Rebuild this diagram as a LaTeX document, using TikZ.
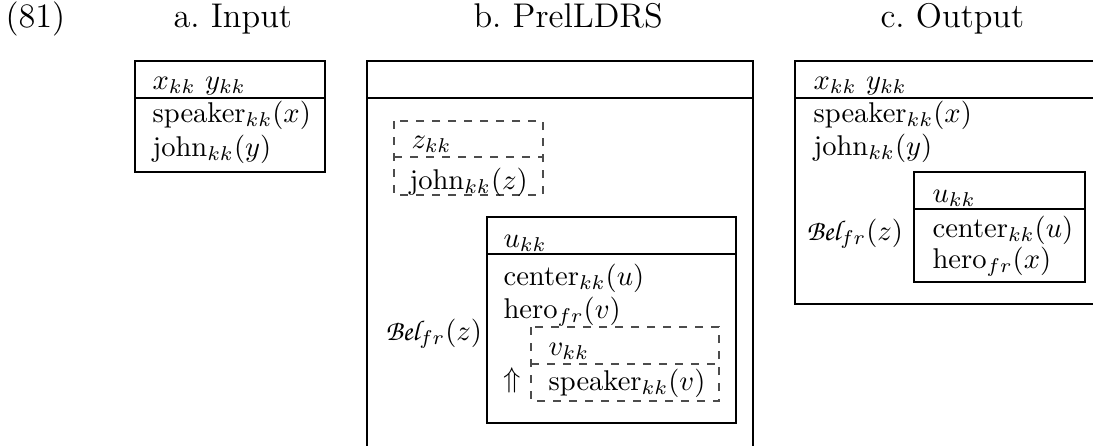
\documentclass[tikz,border=0pt]{standalone}
\usepackage{amsmath,amssymb}
\usetikzlibrary{positioning}
\newcommand{\belop}{\text{\usefont{OT1}{pzc}{m}{it}Bel}}

\begin{document}
\begin{tikzpicture}[
  x=0.35pt, y=-0.35pt,
  drs/.style={draw, line width=0.4pt},
  subdrs/.style={draw, line width=0.4pt, black!70, dash pattern=on 2.8pt off 2.8pt},
  txt/.style={anchor=base west, inner sep=0pt},
  ttl/.style={anchor=base west, inner sep=0pt, font=\large}
]
\clip (0,0) rectangle (1093,446);

% Titles
\node[ttl] (num)  at (5,27)   {(81)};
\node[ttl] (ttlA) at (173,27) {a.\ Input};
\node[ttl] (ttlB) at (473,27) {b.\ PrelLDRS};
\node[ttl] (ttlC) at (880,27) {c.\ Output};

% a. Input
\draw[drs] (135,61) rectangle (325,172);
\draw[drs] (135,98) -- (325,98);
\node[txt] (aRef)  at (152,89)  {$x_{kk}$ $y_{kk}$};
\node[txt] (aSpk)  at (152,122) {speaker$_{kk}(x)$};
\node[txt] (aJohn) at (152,156) {john$_{kk}(y)$};

% b. PrelLDRS
\draw[drs] (367,61) rectangle (753,470);
\draw[drs] (367,98) -- (753,98);
% presupposed z
\draw[subdrs] (394,121) rectangle (543,195);
\draw[subdrs] (394,157) -- (543,157);
\node[txt] (zRef)  at (411,148) {$z_{kk}$};
\node[txt] (zJohn) at (409,189) {john$_{kk}(z)$};
% belief box
\node[txt] (bBel) at (385,340) {$\belop_{fr}(z)$};
\draw[drs] (487,217) rectangle (736,423);
\draw[drs] (487,254) -- (736,254);
\node[txt] (uRef)  at (503,247) {$u_{kk}$};
\node[txt] (uCtr)  at (503,285) {center$_{kk}(u)$};
\node[txt] (uHero) at (503,318) {hero$_{fr}(v)$};
% presupposed v
\node[txt] (upArr) at (503,387) {$\Uparrow$};
\draw[subdrs] (531,327) rectangle (719,401);
\draw[subdrs] (531,364) -- (719,364);
\node[txt] (vRef) at (548,355) {$v_{kk}$};
\node[txt] (vSpk) at (548,390) {speaker$_{kk}(v)$};

% c. Output
\draw[drs] (795,61) rectangle (1110,304);
\draw[drs] (795,98) -- (1110,98);
\node[txt] (cRef)  at (813,89)  {$x_{kk}$ $y_{kk}$};
\node[txt] (cSpk)  at (813,122) {speaker$_{kk}(x)$};
\node[txt] (cJohn) at (813,155) {john$_{kk}(y)$};
\node[txt] (cBel)  at (806,240) {$\belop_{fr}(z)$};
\draw[drs] (914,172) rectangle (1085,282);
\draw[drs] (914,209) -- (1085,209);
\node[txt] (cuRef)  at (932,202) {$u_{kk}$};
\node[txt] (cuCtr)  at (932,237) {center$_{kk}(u)$};
\node[txt] (cuHero) at (932,268) {hero$_{fr}(x)$};
\end{tikzpicture}
\end{document}
